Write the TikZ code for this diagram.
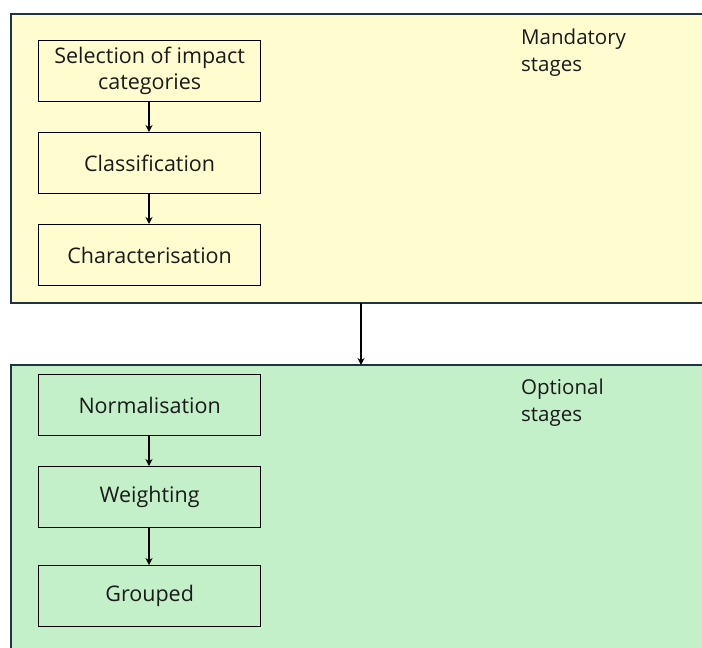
\documentclass[tikz,border=0pt]{standalone}
\usepackage{fontspec}
\setmainfont{Open Sans}
\usetikzlibrary{arrows.meta}
\definecolor{panelline}{HTML}{1E3444}
\definecolor{mandfill}{HTML}{FFFDCF}
\definecolor{optfill}{HTML}{C3F0C8}
\definecolor{ink}{HTML}{1A1A1A}
\tikzset{
  panel/.style={draw=panelline, line width=1.8pt},
  stagebox/.style={draw=black, line width=1.3pt, minimum width=222pt, minimum height=61pt,
    inner sep=0pt, align=center, text=ink, font=\fontsize{21.5}{26}\selectfont, anchor=north west},
  paneltitle/.style={align=left, anchor=north west, inner sep=0pt, text=ink,
    font=\fontsize{20.5}{27}\selectfont},
  flow/.style={draw=black, line width=1.3pt, -{Stealth[length=7pt,width=7pt]}},
}
\begin{document}
\begin{tikzpicture}[x=1pt,y=-1pt]
\useasboundingbox (0,0) rectangle (702,648);
\begin{scope}
\clip (0,0) rectangle (702,648);
% the two panels run past the right and lower edges
\draw[panel, fill=mandfill] (11,14) rectangle (720,303);
\draw[panel, fill=optfill] (11,365) rectangle (720,670);
\end{scope}
\coordinate (mandbot) at (361,303);
\coordinate (opttop) at (361,365);

% mandatory stages
\node[stagebox] (sel) at (38,40) {Selection of impact\\categories};
\node[stagebox] (cla) at (38,132) {Classification};
\node[stagebox] (cha) at (38,224) {Characterisation};
\node[paneltitle] (mand) at (521,29) {Mandatory\\stages};

% optional stages
\node[stagebox] (nor) at (38,374) {Normalisation};
\node[stagebox] (wei) at (38,466) {Weighting};
\node[stagebox] (gro) at (38,565) {Grouped};
\node[paneltitle] (opt) at (521,379) {Optional\\stages};

\draw[flow] (sel.south -| 149,0) -- (cla.north -| 149,0);
\draw[flow] (cla.south -| 149,0) -- (cha.north -| 149,0);
\draw[flow] (nor.south -| 149,0) -- (wei.north -| 149,0);
\draw[flow] (wei.south -| 149,0) -- (gro.north -| 149,0);
\draw[flow] (mandbot) -- (opttop);
\end{tikzpicture}
\end{document}
